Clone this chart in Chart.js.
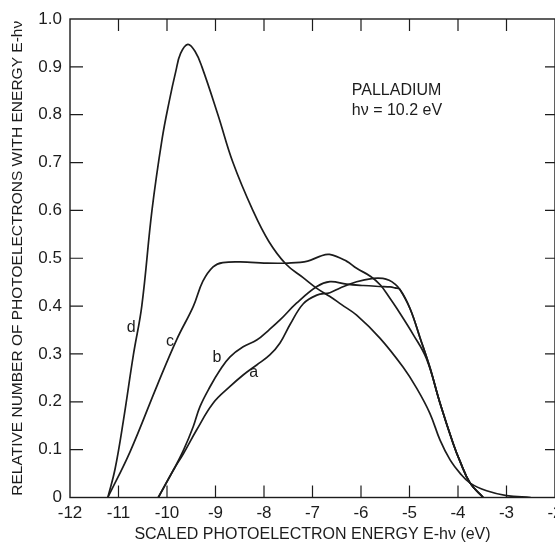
<!DOCTYPE html>
<html>
<head>
<meta charset="utf-8">
<script src="https://cdn.jsdelivr.net/npm/chart.js@4.4.0/dist/chart.umd.min.js"></script>
<style>
  html, body { margin: 0; padding: 0; background: #fff; overflow: hidden; }
  #wrap { width: 555px; height: 546px; }
</style>
</head>
<body>
<div id="wrap"><canvas id="chart" width="555" height="546"></canvas></div>
<script>
// Data (energy in eV, relative number)
const curveAx = [-10.18, -9.87, -9.66, -9.39, -9.05, -8.70, -8.43, -8.15, -7.88, -7.67, -7.46, -7.19, -6.91, -6.64, -6.43, -6.09, -5.75, -5.55, -5.42, -5.3, -5.2, -4.99, -4.78, -4.58, -4.37, -4.10, -3.96, -3.75, -3.48];
const curveAy = [0, 0.057, 0.092, 0.141, 0.197, 0.232, 0.256, 0.277, 0.298, 0.323, 0.362, 0.405, 0.423, 0.428, 0.438, 0.451, 0.458, 0.458, 0.454, 0.446, 0.435, 0.395, 0.333, 0.272, 0.197, 0.113, 0.076, 0.030, 0];

const curveBx = [-10.18, -9.87, -9.66, -9.46, -9.32, -9.11, -8.91, -8.70, -8.43, -8.15, -7.9, -7.67, -7.33, -6.91, -6.64, -6.3, -5.95, -5.61, -5.4, -5.3, -5.2, -4.99, -4.78, -4.58, -4.37, -4.10, -3.96, -3.75, -3.48];
const curveBy = [0, 0.057, 0.099, 0.148, 0.190, 0.232, 0.266, 0.294, 0.315, 0.329, 0.350, 0.371, 0.406, 0.441, 0.451, 0.446, 0.443, 0.441, 0.440, 0.438, 0.435, 0.395, 0.333, 0.272, 0.197, 0.113, 0.076, 0.030, 0];

const curveCx = [-11.22, -10.76, -10.2, -9.8, -9.46, -9.26, -9.05, -8.85, -8.35, -8.0, -7.5, -7.1, -6.85, -6.65, -6.3, -6.09, -5.8, -5.6, -5.4, -5.26, -4.92, -4.65, -4.37, -4.10, -3.96, -3.75, -3.48];
const curveCy = [0, 0.096, 0.235, 0.33, 0.399, 0.452, 0.482, 0.491, 0.492, 0.490, 0.490, 0.494, 0.504, 0.508, 0.494, 0.479, 0.462, 0.444, 0.416, 0.395, 0.340, 0.290, 0.197, 0.113, 0.076, 0.030, 0];

const curveDx = [-11.22, -11.07, -10.9, -10.69, -10.52, -10.31, -10.1, -9.95, -9.82, -9.72, -9.57, -9.42, -9.28, -8.95, -8.64, -8.23, -7.9, -7.55, -7.2, -6.91, -6.64, -6.4, -6.09, -5.61, -5.13, -4.85, -4.58, -4.37, -4.16, -3.96, -3.75, -3.41, -3.0, -2.5];
const curveDy = [0, 0.06, 0.16, 0.30, 0.40, 0.60, 0.75, 0.83, 0.89, 0.928, 0.947, 0.932, 0.90, 0.80, 0.70, 0.60, 0.535, 0.488, 0.46, 0.437, 0.42, 0.403, 0.381, 0.333, 0.272, 0.228, 0.176, 0.120, 0.078, 0.051, 0.030, 0.014, 0.004, 0];

const curveNames = ["a", "b", "c", "d"];
const xTitle = "SCALED PHOTOELECTRON ENERGY E-h\u03bd (eV)";
const yTitle = "RELATIVE NUMBER OF PHOTOELECTRONS WITH ENERGY E-h\u03bd";
const noteLines = ["PALLADIUM", "h\u03bd = 10.2 eV"];

const ink = "#1c1c1c";
const fontFamily = "'Liberation Sans', Arial, sans-serif";

function toPoints(xs, ys) {
  return xs.map((x, i) => ({ x: x, y: ys[i] }));
}

function curve(name, xs, ys) {
  return {
    label: name,
    data: toPoints(xs, ys),
    borderColor: ink,
    borderWidth: 1.7,
    pointRadius: 0,
    fill: false,
    tension: 0.4,
  };
}

// Frame, inward tick marks, curve letters and the note
const framePlugin = {
  id: "frame",
  afterDatasetsDraw(chart) {
    const { ctx, chartArea: a, scales } = chart;
    const xs = scales.x;
    const ys = scales.y;
    ctx.save();
    ctx.strokeStyle = ink;
    ctx.lineWidth = 1.4;
    ctx.strokeRect(a.left, a.top, a.right - a.left, a.bottom - a.top);

    ctx.lineWidth = 1.2;
    ctx.beginPath();
    xs.ticks.forEach((t) => {
      if (t.value <= xs.min || t.value >= xs.max) return;
      const px = xs.getPixelForValue(t.value);
      ctx.moveTo(px, a.bottom);
      ctx.lineTo(px, a.bottom - 12);
      ctx.moveTo(px, a.top);
      ctx.lineTo(px, a.top + 12);
    });
    ys.ticks.forEach((t) => {
      if (t.value <= ys.min || t.value >= ys.max) return;
      const py = ys.getPixelForValue(t.value);
      ctx.moveTo(a.left, py);
      ctx.lineTo(a.left + 13, py);
      ctx.moveTo(a.right, py);
      ctx.lineTo(a.right - 10, py);
    });
    ctx.stroke();

    ctx.fillStyle = ink;
    ctx.font = "16px " + fontFamily;
    ctx.textAlign = "center";
    ctx.textBaseline = "middle";
    const letterSpots = [[-8.21, 0.262], [-8.97, 0.292], [-9.94, 0.325], [-10.74, 0.356]];
    curveNames.forEach((n, i) => {
      const p = letterSpots[i];
      ctx.fillText(n, xs.getPixelForValue(p[0]), ys.getPixelForValue(p[1]));
    });

    ctx.textAlign = "left";
    ctx.textBaseline = "alphabetic";
    ctx.fillText(noteLines[0], xs.getPixelForValue(-6.19), ys.getPixelForValue(0.841));
    ctx.fillText(noteLines[1], xs.getPixelForValue(-6.19), ys.getPixelForValue(0.799));
    ctx.restore();
  },
};

new Chart(document.getElementById("chart"), {
  type: "line",
  data: {
    datasets: [
      curve("a", curveAx, curveAy),
      curve("b", curveBx, curveBy),
      curve("c", curveCx, curveCy),
      curve("d", curveDx, curveDy),
    ],
  },
  options: {
    responsive: false,
    devicePixelRatio: 1,
    animation: false,
    layout: { padding: { top: 19, right: 0, left: 0, bottom: 0 } },
    plugins: {
      legend: { display: false },
      tooltip: { enabled: false },
    },
    scales: {
      x: {
        type: "linear",
        min: -12,
        max: -2,
        grid: { display: false, drawTicks: false },
        border: { display: false },
        ticks: {
          stepSize: 1,
          color: ink,
          padding: 6,
          maxRotation: 0,
          font: { family: fontFamily, size: 17 },
          callback: (v) => String(v),
        },
        title: {
          display: true,
          text: xTitle,
          color: ink,
          padding: { top: 4, bottom: 2 },
          font: { family: fontFamily, size: 16 },
        },
        afterFit(scale) {
          scale.height = 48.5;
          scale.paddingRight = 0;
        },
      },
      y: {
        min: 0,
        max: 1,
        grid: { display: false, drawTicks: false },
        border: { display: false },
        ticks: {
          stepSize: 0.1,
          color: ink,
          padding: 8,
          font: { family: fontFamily, size: 17 },
          callback: (v) => (Math.abs(v) < 1e-9 ? "0" : v.toFixed(1)),
        },
        title: {
          display: true,
          text: yTitle,
          color: ink,
          padding: { top: 8, bottom: 0 },
          font: { family: fontFamily, size: 15.5 },
        },
        afterFit(scale) {
          scale.width = 70;
        },
      },
    },
  },
  plugins: [framePlugin],
});
</script>
</body>
</html>
